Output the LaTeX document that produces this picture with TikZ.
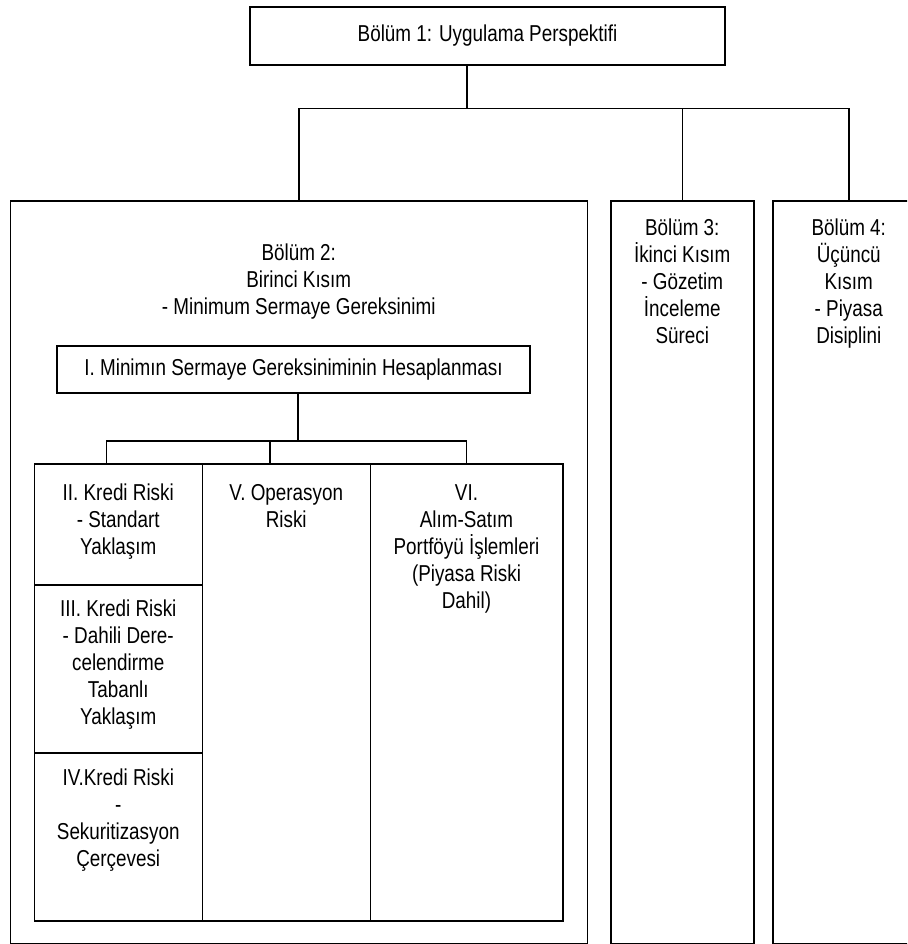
\documentclass[tikz,border=0pt]{standalone}
\usepackage{fontspec}
\setmainfont{Liberation Sans}[FakeStretch=0.82]
\usetikzlibrary{positioning}

\begin{document}
\begin{tikzpicture}[x=1pt,y=-1pt,line width=1.5pt,
    box/.style={draw,rectangle,inner sep=0pt,anchor=north west},
    txt/.style={font=\fontsize{23}{27}\selectfont,align=center,inner sep=0pt,anchor=base}]

            \useasboundingbox (0,0) rectangle (907,944);
            \clip (0,0) rectangle (907,944);

            \node[draw,minimum width=475pt,minimum height=58pt,inner sep=0pt,
                  font=\fontsize{23}{27}\selectfont] (p1) at (487.5,36) {Bölüm 1: Uygulama Perspektifi};

            \node[box,minimum width=577pt,minimum height=743pt,
                  label={[txt,yshift=-114pt]north:{Bölüm 2:\\Birinci Kısım\\- Minimum Sermaye Gereksinimi}}] (p2) at (9.5,200) {};

            \node[box,minimum width=143pt,minimum height=743pt,
                  label={[txt,yshift=-143pt]north:{Bölüm 3:\\İkinci Kısım\\- Gözetim\\İnceleme\\Süreci}}] (p3) at (610,200) {};

            \node[box,minimum width=152pt,minimum height=743pt,
                  label={[txt,yshift=-143pt]north:{Bölüm 4:\\Üçüncü\\Kısım\\- Piyasa\\Disiplini}}] (p4) at (772,200) {};

            \node[draw,minimum width=473pt,minimum height=47pt,inner sep=0pt,
                  font=\fontsize{23}{27}\selectfont] (s1) at (293.5,369.5) {I. Minimın Sermaye Gereksiniminin Hesaplanması};

            \node[box,minimum width=168pt,minimum height=121pt,
                  label={[txt,yshift=-91pt]north:{II. Kredi Riski\\- Standart\\Yaklaşım}}] (s2) at (33.5,463) {};

            \node[box,minimum width=168pt,minimum height=168pt,
                  label={[txt,yshift=-140pt]north:{III. Kredi Riski\\- Dahili Dere-\\celendirme\\Tabanlı\\Yaklaşım}}] (s3) at (33.5,584) {};

            \node[box,minimum width=168pt,minimum height=168pt,
                  label={[txt,yshift=-114pt]north:{IV.Kredi Riski\\-\\Sekuritizasyon\\Çerçevesi}}] (s4) at (33.5,752) {};

            \node[box,minimum width=168pt,minimum height=457pt,
                  label={[txt,yshift=-64pt]north:{V. Operasyon\\Riski}}] (s5) at (201.5,463) {};

            \node[box,minimum width=192.5pt,minimum height=457pt,
                  label={[txt,yshift=-145pt]north:{VI.\\Alım-Satım\\Portföyü İşlemleri\\(Piyasa Riski\\Dahil)}}] (s6) at (369.5,463) {};

            % connectors
            \coordinate (j1) at (467,108.5);
            \coordinate (j2) at (298,441);
            \coordinate (ja) at (106.5,441);
            \coordinate (jb) at (270,441);

            \draw (j1 |- p1.south) -- (j1);
            \draw (p2.north) |- (j1) -| (p4.north);
            \draw (j1 -| p3.north) -- (p3.north);

            \draw (j2 |- s1.south) -- (j2);
            \draw (ja |- s2.north) -- (ja) -- (j2 -| s6.north) -- (s6.north);
            \draw (jb) -- (jb |- s5.north);

        \end{tikzpicture}
\end{document}
